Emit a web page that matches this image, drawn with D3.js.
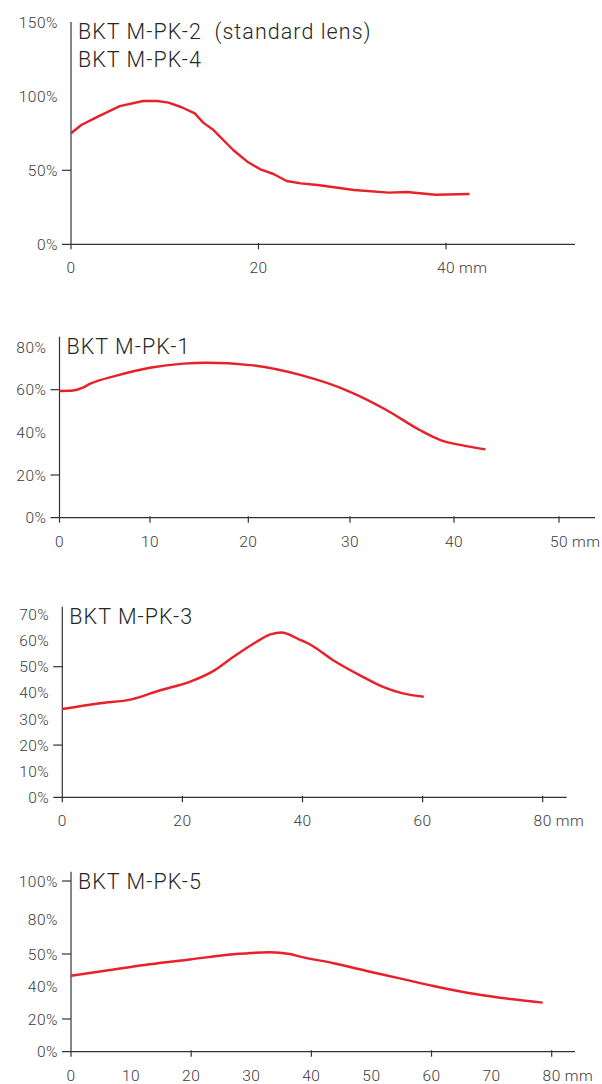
<!DOCTYPE html>
<html>
<head>
<meta charset="utf-8">
<script src="https://cdn.jsdelivr.net/npm/d3@7"></script>
<style>
  body { margin: 0; background: #fff; }
  svg { display: block; }
  .tick-label { font-family: Roboto, "Liberation Sans", Arial, sans-serif; font-weight: 300; font-size: 15.5px; fill: #3a3a3a; letter-spacing: 0.5px; }
  .title { font-family: Roboto, "Liberation Sans", Arial, sans-serif; font-weight: 300; font-size: 21.5px; fill: #262626; letter-spacing: 1.05px; white-space: pre; }
</style>
</head>
<body>
<svg width="602" height="1084"></svg>
<script>
// BKT M-PK-2 / M-PK-4
var pk2X = [0, 1.1, 2.7, 5.2, 7.7, 9.2, 10.4, 11.8, 13.2, 14.1, 15.2, 17.3, 18.9, 20.2, 21.6, 23.0, 24.5, 26.3, 30.2, 33.9, 35.8, 38.9, 42.5];
var pk2Y = [75, 80.6, 85.8, 93.4, 96.8, 96.8, 95.7, 92.6, 88.5, 82.2, 77.2, 63.7, 55.4, 50.7, 47.5, 42.8, 41.2, 40.1, 36.7, 34.9, 35.3, 33.5, 34.0];
// BKT M-PK-1
var pk1X = [0, 1.5, 2.5, 3.4, 6.3, 10, 13.4, 15.8, 20.2, 25.1, 30, 33.5, 36.7, 38.7, 40.6, 43.0];
var pk1Y = [59.4, 59.6, 60.8, 62.8, 66.6, 70.3, 72.2, 72.6, 71.5, 66.9, 59, 50.5, 41.1, 36.4, 34.1, 32.0];
// BKT M-PK-3
var pk3X = [0, 6.3, 11.5, 16.3, 21.2, 25.4, 28.5, 32.3, 34.8, 36.5, 39.5, 41.2, 45.1, 49.5, 53.4, 56.7, 60.2];
var pk3Y = [33.8, 36, 37.5, 41, 44.2, 48.7, 53.8, 59.5, 62.5, 63.1, 60.4, 58.6, 52.5, 46.8, 42.3, 39.8, 38.5];
// BKT M-PK-5
var pk5X = [0, 6.5, 13.1, 19.8, 27, 33.1, 36.4, 38.1, 43.7, 49.2, 54.7, 60.3, 65.9, 71.4, 78.5];
var pk5Y = [43.2, 45, 46.8, 48.3, 49.9, 51.5, 50, 49.2, 47.1, 44.7, 42.4, 40, 35.9, 32.9, 29.9];

// axis ticks / labels
var p1YLabels = [0, 50, 100, 150], p1YTicks = [0, 50];
var p1XLabels = [0, 20, 40], p1XTicks = [20, 40];
var p2YLabels = [0, 20, 40, 60, 80], p2YTicks = [0, 20, 60];
var p2XLabels = [0, 10, 20, 30, 40, 50], p2XTicks = [10, 20, 30, 40, 50];
var p3YLabels = [0, 10, 20, 30, 40, 50, 60, 70], p3YTicks = [0, 20, 50];
var p3XLabels = [0, 20, 40, 60, 80], p3XTicks = [20, 40, 60, 80];
var p4YLabels = [0, 20, 40, 50, 80, 100], p4YTicks = [0, 20, 50, 100];
var p4XLabels = [0, 10, 20, 30, 40, 50, 60, 70, 80], p4XTicks = [20, 40, 60, 80];

var svg = d3.select("svg");
var red = "#e8202a", ink = "#333";

var panels = [
  {
    titles: ["BKT M-PK-2  (standard lens)", "BKT M-PK-4"],
    xs: pk2X, ys: pk2Y, curve: d3.curveLinear,
    x: d3.scaleLinear().domain([0, 40]).range([71, 446]),
    y: d3.scaleLinear().domain([0, 150]).range([244.3, 22.3]),
    top: 22, right: 575,
    yLabels: p1YLabels, yTicks: p1YTicks, xLabels: p1XLabels, xTicks: p1XTicks
  },
  {
    titles: ["BKT M-PK-1"],
    xs: pk1X, ys: pk1Y, curve: d3.curveMonotoneX,
    x: d3.scaleLinear().domain([0, 10, 20, 30, 40, 50]).range([59.5, 150, 248.3, 350, 454, 559]),
    y: d3.scaleLinear().domain([0, 80]).range([517.7, 347]),
    top: 336.7, right: 595,
    yLabels: p2YLabels, yTicks: p2YTicks, xLabels: p2XLabels, xTicks: p2XTicks
  },
  {
    titles: ["BKT M-PK-3"],
    xs: pk3X, ys: pk3Y, curve: d3.curveMonotoneX,
    x: d3.scaleLinear().domain([0, 80]).range([62.3, 542.7]),
    y: d3.scaleLinear().domain([0, 70]).range([797.3, 614.5]),
    top: 606.7, right: 566.7,
    yLabels: p3YLabels, yTicks: p3YTicks, xLabels: p3XLabels, xTicks: p3XTicks
  },
  {
    titles: ["BKT M-PK-5"],
    xs: pk5X, ys: pk5Y, curve: d3.curveMonotoneX,
    x: d3.scaleLinear().domain([0, 80]).range([71, 551.7]),
    y: d3.scaleLinear().domain([0, 20, 40, 50, 80, 100]).range([1051.7, 1019, 986, 954, 919, 881]),
    top: 871.7, right: 575,
    yLabels: p4YLabels, yTicks: p4YTicks, xLabels: p4XLabels, xTicks: p4XTicks
  }
];

panels.forEach(function(p) {
  var g = svg.append("g");
  var x0 = p.x(0), y0 = p.y(0);
  var xMax = p.xLabels[p.xLabels.length - 1];

  // axes lines
  g.append("line").attr("x1", x0).attr("x2", x0).attr("y1", p.top).attr("y2", y0 + 5)
    .attr("stroke", ink).attr("stroke-width", 1.2);
  g.append("line").attr("x1", x0 - 9).attr("x2", p.right).attr("y1", y0).attr("y2", y0)
    .attr("stroke", ink).attr("stroke-width", 1.2);

  // y ticks
  g.selectAll(".ytick").data(p.yTicks.filter(function(d) { return d !== 0; }))
    .enter().append("line")
    .attr("x1", x0 - 9).attr("x2", x0)
    .attr("y1", function(d) { return p.y(d); }).attr("y2", function(d) { return p.y(d); })
    .attr("stroke", ink).attr("stroke-width", 1.2);

  g.selectAll(".ylab").data(p.yLabels).enter().append("text")
    .attr("class", "tick-label")
    .attr("x", x0 - 13)
    .attr("y", function(d) { return p.y(d); })
    .attr("dy", "0.36em")
    .attr("text-anchor", "end")
    .text(function(d) { return d + "%"; });

  // x ticks
  g.selectAll(".xtick").data(p.xTicks).enter().append("line")
    .attr("x1", function(d) { return p.x(d); }).attr("x2", function(d) { return p.x(d); })
    .attr("y1", y0 - 1.5).attr("y2", y0 + 5)
    .attr("stroke", ink).attr("stroke-width", 1.2);

  var xl = g.selectAll(".xlab").data(p.xLabels).enter().append("text")
    .attr("class", "tick-label")
    .attr("x", function(d) { return p.x(d); })
    .attr("y", y0 + 29)
    .attr("text-anchor", "middle")
    .text(function(d) { return d; });

  // unit after last label
  var w = xl.filter(function(d) { return d === xMax; }).node().getComputedTextLength();
  g.append("text").attr("class", "tick-label")
    .attr("x", p.x(xMax) + w / 2 + 4).attr("y", y0 + 29)
    .text("mm");

  // titles
  g.selectAll(".title").data(p.titles).enter().append("text")
    .attr("class", "title")
    .attr("x", x0 + 7)
    .attr("y", function(d, i) { return p.top + 17 + i * 27.5; })
    .text(function(d) { return d; });

  // curve
  var line = d3.line()
    .x(function(d) { return p.x(d[0]); })
    .y(function(d) { return p.y(d[1]); })
    .curve(p.curve);
  g.append("path")
    .datum(d3.zip(p.xs, p.ys))
    .attr("d", line)
    .attr("fill", "none")
    .attr("stroke", red)
    .attr("stroke-width", 2.4)
    .attr("stroke-linejoin", "round");
});
</script>
</body>
</html>
